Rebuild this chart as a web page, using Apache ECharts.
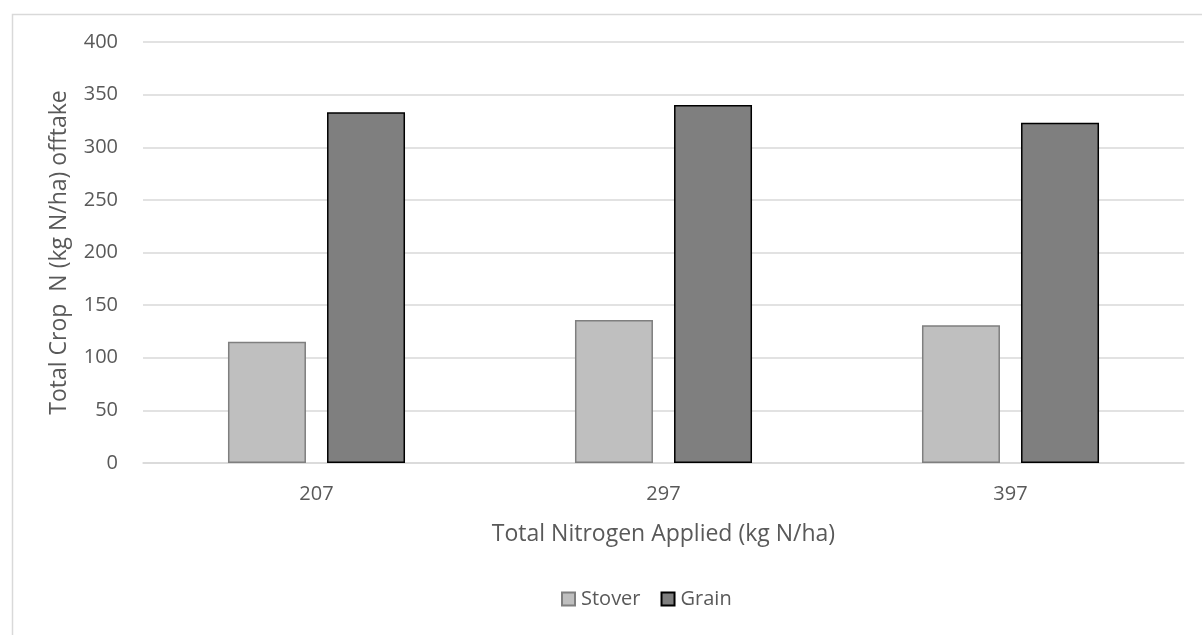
<!DOCTYPE html>
<html>
<head>
<meta charset="utf-8">
<script src="https://cdn.jsdelivr.net/npm/echarts@6/dist/echarts.min.js"></script>
<style>html,body{margin:0;padding:0;background:#fff}#c{width:1202px;height:635px}</style>
</head>
<body>
<div id="c"></div>
<script>
var categories = ['207', '297', '397'];
var stover = [115.3, 135.9, 130.8];
var grain = [333.2, 340.1, 323.3];
var yTicks = [0, 50, 100, 150, 200, 250, 300, 350, 400];

var FONT = 'Open Sans';
var TXT = '#595959';
var chart = echarts.init(document.getElementById('c'));
chart.setOption({
  animation: false,
  backgroundColor: '#fff',
  textStyle: { fontFamily: FONT },
  graphic: [{
    type: 'rect', left: 10, top: 12, silent: true,
    shape: { width: 1210, height: 640 },
    style: { fill: 'none', stroke: '#d9d9d9', lineWidth: 1.5 }
  }],
  grid: { left: 143, right: 18, top: 42, bottom: 172 },
  legend: {
    left: 556, top: 584,
    itemWidth: 13, itemHeight: 13, itemGap: 20,
    icon: 'rect',
    textStyle: { color: TXT, fontSize: 20, fontFamily: FONT, padding: [0, 0, 0, 1] },
    data: ['Stover', 'Grain']
  },
  xAxis: {
    type: 'category',
    data: categories,
    name: 'Total Nitrogen Applied (kg N/ha)',
    nameLocation: 'middle',
    nameGap: 60,
    nameTextStyle: { color: TXT, fontSize: 23, fontFamily: FONT },
    axisLine: { lineStyle: { color: '#d9d9d9', width: 1.5 } },
    axisTick: { show: false },
    axisLabel: { color: TXT, fontSize: 20, margin: 21, fontFamily: FONT }
  },
  yAxis: {
    type: 'value',
    min: 0, max: 400, interval: 50,
    name: 'Total Crop  N (kg N/ha) offtake',
    nameLocation: 'middle',
    nameGap: 72,
    nameTextStyle: { color: TXT, fontSize: 23, fontFamily: FONT },
    axisLine: { show: false },
    axisTick: { show: false },
    axisLabel: {
      color: TXT, fontSize: 20, margin: 25, fontFamily: FONT,
      customValues: yTicks
    },
    splitLine: { lineStyle: { color: '#d9d9d9', width: 1.5 } }
  },
  series: [{
    name: 'Stover', type: 'bar', data: stover,
    barWidth: 78, barGap: '27%',
    itemStyle: { color: '#bfbfbf', borderColor: '#7f7f7f', borderWidth: 1.5 }
  }, {
    name: 'Grain', type: 'bar', data: grain,
    barWidth: 78,
    itemStyle: { color: '#7f7f7f', borderColor: '#000000', borderWidth: 1.5 }
  }]
});
</script>
</body>
</html>
